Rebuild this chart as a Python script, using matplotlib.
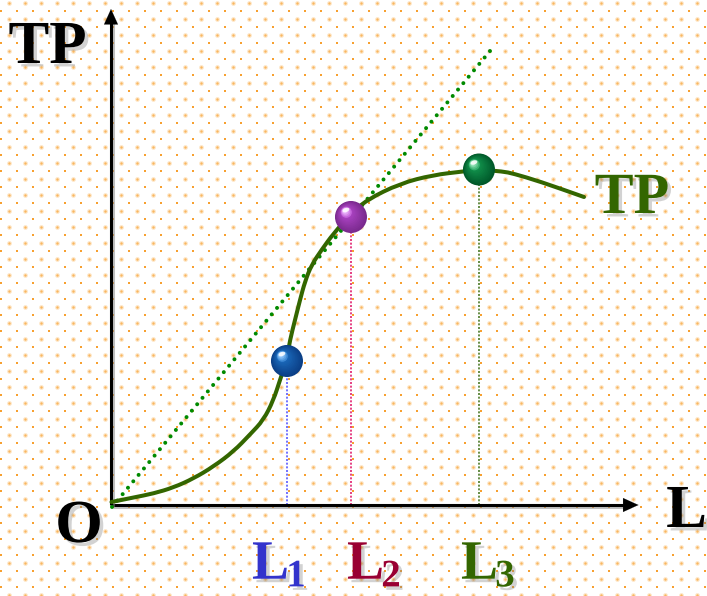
import numpy as np
import matplotlib
matplotlib.use("Agg")
import matplotlib.pyplot as plt
import matplotlib.patheffects as pe
from matplotlib.patches import Circle, Ellipse, PathPatch
from matplotlib.path import Path
from matplotlib.colors import to_rgb

plt.rcParams["mathtext.fontset"] = "custom"
plt.rcParams["mathtext.rm"] = "Liberation Serif:bold"
plt.rcParams["mathtext.bf"] = "Liberation Serif:bold"
plt.rcParams["mathtext.it"] = "Liberation Serif:bold"

# TP curve (L, TP)
curve_L = [0.01, 0.45, 0.85, 1.25, 1.65, 2.05, 2.45, 2.78, 3.05, 3.25, 3.38, 3.51,
           3.58, 3.68, 3.78, 3.88, 4.01, 4.21, 4.45, 4.80, 5.11, 5.78, 6.44, 7.04,
           7.36, 7.84, 8.04, 8.58, 9.46]
curve_TP = [0.06, 0.15, 0.23, 0.35, 0.53, 0.77, 1.07, 1.41, 1.70, 2.10, 2.50, 2.89,
            3.30, 3.70, 4.10, 4.47, 4.80, 5.10, 5.43, 5.82, 6.10, 6.43, 6.60, 6.67,
            6.71, 6.67, 6.63, 6.47, 6.16]

# ray from origin tangent to TP
ray_L = [0.02, 7.58]
ray_TP = [-0.04, 9.08]

# the three marked points
pt_L = [3.52, 4.80, 7.36]
pt_TP = [2.88, 5.76, 6.71]
pt_names = ["1", "2", "3"]
lab_x = [2.82, 4.72, 7.00]
pt_label_col = ["#3333cc", "#990033", "#336600"]
pt_drop_col = ["#5a5aff", "#e0206e", "#4d7a26"]
ball_cols = [("#0b3f86", "#1f74c8", "#9fd0ff"),
             ("#7a2a8e", "#b84ad0", "#f0c0ff"),
             ("#00592a", "#16a055", "#9fe8c0")]

x_end, y_end = 10.55, 9.92

fig = plt.figure(figsize=(7.07, 5.96), dpi=100)
ax = fig.add_axes([0, 0, 1, 1])
ax.set_xlim(-2.22, 11.92)
ax.set_ylim(-1.82, 10.1)
ax.axis("off")

# dotted paper background
gx = np.arange(-2.22 + 9 / 50, 11.92, 16 / 50)
gy = np.arange(10.1 - 2.7 / 50, -1.82, -16 / 50)
X, Y = np.meshgrid(gx, gy)
ax.scatter(X.ravel(), Y.ravel(), s=12, color="#fde6c8", lw=0, zorder=0)
ax.scatter(X.ravel(), Y.ravel(), s=3, color="#f9b760", lw=0, zorder=0)
gx2 = np.arange(-2.22 + 1 / 50, 11.92, 16 / 50)
gy2 = np.arange(10.1 - 10.7 / 50, -1.82, -16 / 50)
X2, Y2 = np.meshgrid(gx2, gy2)
ax.scatter(X2.ravel(), Y2.ravel(), s=3, marker="s", color="#f7a030", lw=0, zorder=0)

shadow = [pe.SimpleLineShadow(offset=(1.2, -1.2), shadow_color="gray", alpha=0.5), pe.Normal()]

# axes with arrows
ax.plot([0, x_end - 0.2], [0, 0], color="black", lw=2.2, solid_capstyle="butt",
        zorder=3, path_effects=shadow)
ax.plot([0, 0], [0, y_end - 0.2], color="black", lw=2.2, solid_capstyle="butt",
        zorder=3, path_effects=shadow)
arrow = dict(arrowstyle="-|>,head_length=1.1,head_width=0.5", color="black", lw=0.1,
             shrinkA=0, shrinkB=0, mutation_scale=10)
ax.annotate("", xy=(x_end, 0), xytext=(x_end - 0.3, 0), arrowprops=arrow, zorder=3)
ax.annotate("", xy=(0, y_end), xytext=(0, y_end - 0.3), arrowprops=arrow, zorder=3)

# tangent ray
ax.plot(ray_L, ray_TP, color="#008a00", lw=2.9, linestyle=(0, (0.001, 2.07)),
        dash_capstyle="round", zorder=4)

# TP curve, smoothed with quadratic bezier segments through the read points
pts = np.column_stack([curve_L, curve_TP])
verts = [pts[0]]
codes = [Path.MOVETO]
for k in range(1, len(pts) - 1):
    verts += [pts[k], (pts[k] + pts[k + 1]) / 2]
    codes += [Path.CURVE3, Path.CURVE3]
verts.append(pts[-1])
codes.append(Path.LINETO)
ax.add_patch(PathPatch(Path(verts, codes), facecolor="none", edgecolor="#336600",
                       lw=2.9, capstyle="round", joinstyle="round", zorder=5))

# drop lines and balls
r = 0.32
for i in range(3):
    ax.plot([pt_L[i], pt_L[i]], [0, pt_TP[i]], color=pt_drop_col[i], lw=1.2,
            linestyle=(0, (1.2, 1.0)), zorder=2)
    dark, mid, light = [np.array(to_rgb(c)) for c in ball_cols[i]]
    n = 14
    for k in range(n):
        t = k / (n - 1)
        rr = r * (1 - 0.85 * t)
        off = (r - rr) * 0.45
        col = dark * (1 - t) + mid * t if t < 0.7 else mid * (1 - (t - 0.7) / 0.3) + light * (t - 0.7) / 0.3
        ax.add_patch(Circle((pt_L[i] - off, pt_TP[i] + off), rr, color=np.clip(col, 0, 1),
                            lw=0, zorder=6))
    ax.add_patch(Ellipse((pt_L[i] - 0.1, pt_TP[i] + 0.14), 0.14, 0.08, angle=20,
                         color="white", alpha=0.85, lw=0, zorder=6))

# labels
tshadow = [pe.withSimplePatchShadow(offset=(2.5, -2.5), shadow_rgbFace="gray", alpha=0.35)]
font = dict(family="Liberation Serif", weight="bold")
ax.text(-1.27, 8.84, "TP", fontsize=44, color="black", ha="center", va="baseline",
        path_effects=tshadow, **font)
ax.text(-0.64, -0.74, "O", fontsize=44, color="black", ha="center", va="baseline",
        path_effects=tshadow, **font)
ax.text(11.51, -0.44, "L", fontsize=44, color="black", ha="center", va="baseline",
        path_effects=tshadow, **font)
ax.text(10.42, 5.84, "TP", fontsize=42, color="#336600", ha="center", va="baseline",
        path_effects=tshadow, **font)
for i in range(3):
    ax.text(lab_x[i], -1.48, "L$\\hspace{-0.07}_{\\mathbf{" + pt_names[i] + "}}$",
            fontsize=40, color=pt_label_col[i], ha="left", va="baseline",
            path_effects=tshadow, **font)

fig.savefig("out.png", dpi=100, facecolor="white")
